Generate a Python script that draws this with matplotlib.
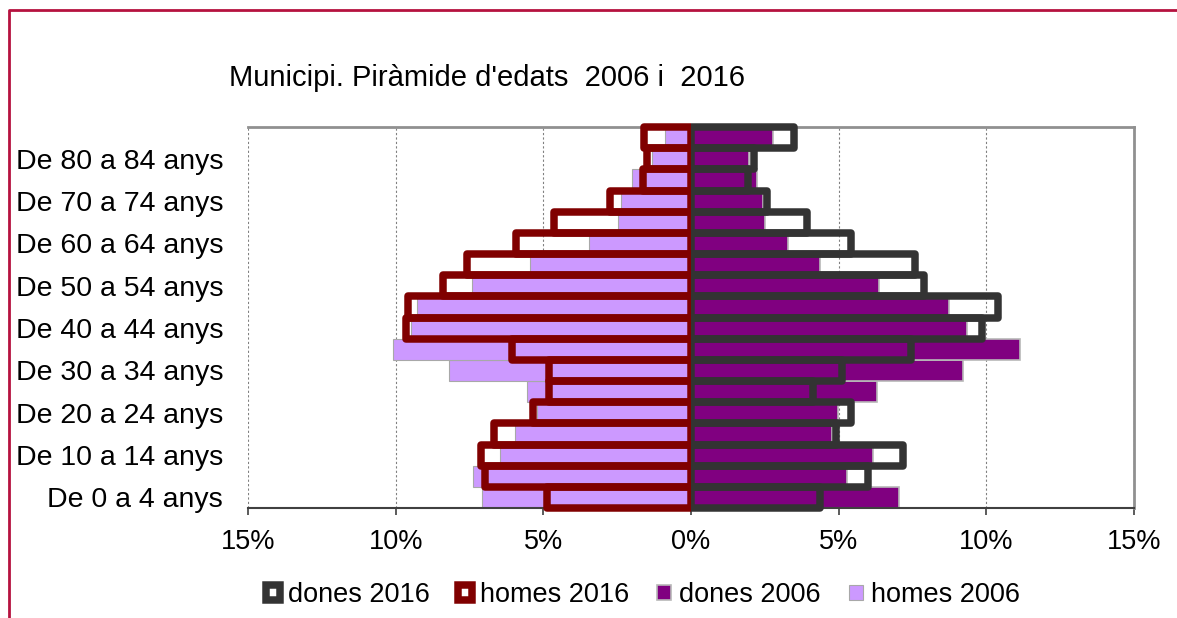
import matplotlib.pyplot as plt
import numpy as np
from matplotlib.lines import Line2D
from matplotlib.patches import Rectangle
from matplotlib.ticker import FuncFormatter

plt.rcParams["font.family"] = ["Liberation Sans", "DejaVu Sans"]

AGE_GROUPS = [
    "De 0 a 4 anys", "De 5 a 9 anys", "De 10 a 14 anys", "De 15 a 19 anys",
    "De 20 a 24 anys", "De 25 a 29 anys", "De 30 a 34 anys", "De 35 a 39 anys",
    "De 40 a 44 anys", "De 45 a 49 anys", "De 50 a 54 anys", "De 55 a 59 anys",
    "De 60 a 64 anys", "De 65 a 69 anys", "De 70 a 74 anys", "De 75 a 79 anys",
    "De 80 a 84 anys", "De 85 i més anys",
]

# percentage of total population per age group
homes_2006 = [7.07, 7.37, 6.47, 5.96, 5.23, 5.56, 8.19, 10.08, 9.49,
              9.29, 7.41, 5.45, 3.44, 2.46, 2.38, 1.99, 1.33, 0.88]
dones_2006 = [7.05, 5.29, 6.17, 4.76, 4.99, 6.29, 9.22, 11.14, 9.36,
              8.75, 6.38, 4.37, 3.30, 2.51, 2.45, 2.22, 1.98, 2.77]
homes_2016 = [4.88, 6.96, 7.10, 6.68, 5.35, 4.82, 4.82, 6.06, 9.66,
              9.58, 8.40, 7.57, 5.93, 4.63, 2.74, 1.63, 1.48, 1.60]
dones_2016 = [4.36, 5.99, 7.18, 4.91, 5.42, 4.13, 5.11, 7.46, 9.85,
              10.40, 7.90, 7.59, 5.42, 3.93, 2.57, 1.92, 2.12, 3.50]

X_TICKS = [-15, -10, -5, 0, 5, 10, 15]

FONT_SIZE = 19.5
W, H = 1177, 618

fig = plt.figure(figsize=(W / 100, H / 100), dpi=100)
ax = fig.add_axes([248 / W, 1 - 508 / H, (1134 - 248) / W, (508 - 127) / H])

y = np.arange(len(AGE_GROUPS))

# 2006: filled bars
ax.barh(y, [-v for v in homes_2006], height=1.0, color="#CC99FF",
        edgecolor="#A8A8A8", linewidth=0.8, label="homes 2006", zorder=2)
ax.barh(y, dones_2006, height=1.0, color="#800080",
        edgecolor="#B8B8B8", linewidth=1.2, label="dones 2006", zorder=2)

# 2016: hollow bars with a heavy outline
h16 = ax.barh(y, [-v for v in homes_2016], height=1.0, fill=False,
              edgecolor="#800000", linewidth=5.4, joinstyle="round",
              label="homes 2016", zorder=3)
d16 = ax.barh(y, dones_2016, height=1.0, fill=False,
              edgecolor="#333333", linewidth=5.4, joinstyle="round",
              label="dones 2016", zorder=3)

# keep each outline on its own side of the centre axis
left_clip = Rectangle((-20, -5), 20, 30, transform=ax.transData)
right_clip = Rectangle((0, -5), 20, 30, transform=ax.transData)
for bar in h16:
    bar.set_clip_path(left_clip)
for bar in d16:
    bar.set_clip_path(right_clip)

ax.set_xlim(-15, 15)
ax.set_ylim(-0.5, len(AGE_GROUPS) - 0.5)

ax.set_xticks(X_TICKS)
ax.xaxis.set_major_formatter(FuncFormatter(lambda v, _: f"{abs(v):.0f}%"))
ax.tick_params(axis="x", direction="out", length=5, width=1.2,
               color="#404040", pad=10, labelsize=FONT_SIZE)

ax.set_yticks(y[::2])
ax.set_yticklabels(AGE_GROUPS[::2])
ax.tick_params(axis="y", length=0, pad=18, labelsize=20.5)

ax.xaxis.grid(True, linestyle=(0, (2, 2)), color="#808080", linewidth=0.8)
ax.set_axisbelow(True)

for side in ("top", "right", "left"):
    ax.spines[side].set_color("#909090")
    ax.spines[side].set_linewidth(2)
ax.spines["left"].set_visible(False)
ax.spines["bottom"].set_color("#404040")
ax.spines["bottom"].set_linewidth(1.5)

# centre axis with tick marks on the group boundaries
centre = ax.secondary_yaxis(0.5)
centre.set_yticks(np.arange(len(AGE_GROUPS) + 1) - 0.5)
centre.set_yticklabels([])
centre.tick_params(axis="y", direction="out", length=5, width=1.2, color="#222222")
centre.spines["left"].set_color("#222222")
centre.spines["left"].set_linewidth(1.5)

fig.text(229 / W, 1 - 78 / H, "Municipi. Piràmide d'edats  2006 i  2016",
         ha="left", va="center", fontsize=21)

handles, labels = ax.get_legend_handles_labels()
order = ["dones 2016", "homes 2016", "dones 2006", "homes 2006"]
by_label = dict(zip(labels, handles))
fig.legend([by_label[k] for k in order], order, loc="center",
           bbox_to_anchor=(643 / W, 1 - 595 / H), ncol=4, frameon=False,
           fontsize=FONT_SIZE, handlelength=0.5, handleheight=0.5,
           handletextpad=0.3, columnspacing=1.05, borderpad=0)

# outer frame of the chart
fig.add_artist(Line2D([9 / W, 9 / W, 1.0], [0.0, 1 - 10 / H, 1 - 10 / H],
                      transform=fig.transFigure, color="#B5123F", linewidth=2))

fig.savefig("out.png", dpi=100)
